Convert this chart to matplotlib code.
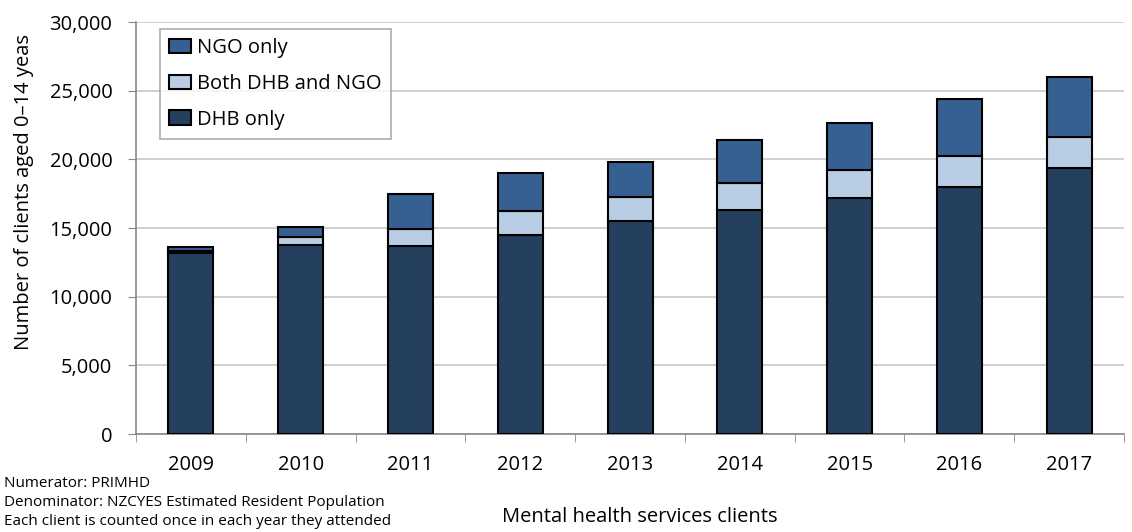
import matplotlib.pyplot as plt
import numpy as np
from matplotlib.ticker import FuncFormatter
from matplotlib.legend_handler import HandlerPatch
from matplotlib.patches import Rectangle

plt.rcParams['font.family'] = ['Open Sans', 'DejaVu Sans']

years = ['2009', '2010', '2011', '2012', '2013', '2014', '2015', '2016', '2017']
dhb_only = [13150, 13750, 13700, 14490, 15510, 16310, 17210, 17970, 19400]
both = [200, 580, 1230, 1750, 1770, 1950, 2020, 2280, 2250]
ngo_only = [300, 770, 2550, 2790, 2550, 3150, 3440, 4150, 4370]

fig = plt.figure(figsize=(11.32, 5.32), dpi=100)
ax = fig.add_axes([0.1201, 0.1842, 0.8729, 0.7744])

x = np.arange(len(years))
w = 0.41
ax.bar(x, dhb_only, w, color='#253f5f', edgecolor='black', linewidth=1.5, label='DHB only', zorder=3)
ax.bar(x, both, w, bottom=dhb_only, color='#b9cde5', edgecolor='black', linewidth=1.5,
       label='Both DHB and NGO', zorder=3)
bottom2 = np.array(dhb_only) + np.array(both)
ax.bar(x, ngo_only, w, bottom=bottom2, color='#376092', edgecolor='black', linewidth=1.5,
       label='NGO only', zorder=3)

ax.set_xlim(-0.5, len(years) - 0.5)
ax.set_ylim(0, 30000)
ax.set_yticks(range(0, 30001, 5000))
ax.yaxis.set_major_formatter(FuncFormatter(lambda v, p: f'{int(v):,}'))
ax.yaxis.grid(True, color='#c8c8c8', linewidth=1.2, zorder=0)

ax.set_xticks(x)
ax.set_xticklabels(years)
ax.set_xticks(np.arange(-0.5, len(years) + 0.5, 1), minor=True)
ax.tick_params(axis='x', which='major', length=0, pad=15, labelsize=14.5)
ax.tick_params(axis='x', which='minor', length=6, color='#888888')
ax.tick_params(axis='y', length=6, color='#888888', labelsize=14.5, pad=11)

for s in ['top', 'right']:
    ax.spines[s].set_visible(False)
for s in ['left', 'bottom']:
    ax.spines[s].set_color('#888888')
    ax.spines[s].set_linewidth(1.2)

fig.text(0.021, 0.64, 'Number of clients aged 0\u201314 yeas', fontsize=14.5,
         rotation=90, ha='center', va='center')
fig.text(0.5654, 0.0188, 'Mental health services clients', fontsize=14.5,
         ha='center', va='baseline')


# small square legend keys, pushed a little to the right
def square_key(legend, orig_handle, xdescent, ydescent, width, height, fontsize):
    s = 0.7 * fontsize
    return Rectangle((-xdescent + width - s, -ydescent + (height - s) / 2), s, s)


handles, labels = ax.get_legend_handles_labels()
leg = ax.legend(handles[::-1], labels[::-1], loc='upper left', bbox_to_anchor=(0.0243, 0.983),
                fontsize=14.5, frameon=True, fancybox=False, edgecolor='#999999',
                handlelength=1.1, handleheight=0.7, handletextpad=0.3, borderpad=0.45,
                labelspacing=0.78, borderaxespad=0,
                handler_map={Rectangle: HandlerPatch(patch_func=square_key)})
leg.get_frame().set_linewidth(1.2)
leg.set_zorder(5)

fig.text(0.0035, 0.0846, 'Numerator: PRIMHD', fontsize=11, va='baseline')
fig.text(0.0035, 0.0489, 'Denominator: NZCYES Estimated Resident Population', fontsize=11,
         va='baseline')
fig.text(0.0035, 0.0132, 'Each client is counted once in each year they attended', fontsize=11,
         va='baseline')

fig.savefig('out.png', dpi=100)
